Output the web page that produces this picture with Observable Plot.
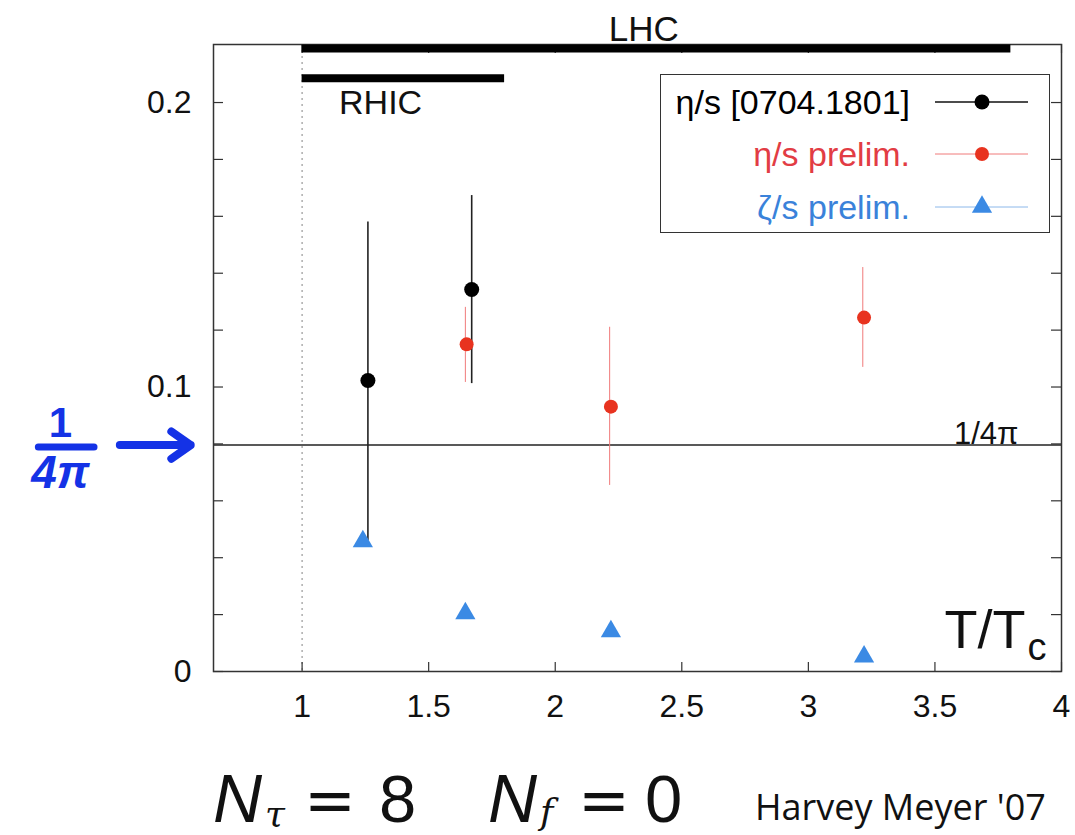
<!DOCTYPE html>
<html><head><meta charset="utf-8">
<script src="https://cdn.jsdelivr.net/npm/d3@7"></script>
<script src="https://cdn.jsdelivr.net/npm/@observablehq/plot@0.6"></script>
<style>
body{margin:0;background:#fff;}
#wrap{position:relative;width:1075px;height:835px;font-family:"Liberation Sans",Arial,sans-serif;}
#legend{position:absolute;left:660px;top:74px;width:388px;height:157px;border:1.5px solid #333;background:#fff;}
#caption{position:absolute;left:0;top:750px;}
</style></head>
<body><div id="wrap"></div>
<script>
// ---- data ----
const etaRefT   = [1.26, 1.67];
const etaRefV   = [0.1023, 0.1343];
const etaRefLo  = [0.046, 0.1012];
const etaRefHi  = [0.158, 0.1673];

const etaPreT   = [1.65, 2.22, 3.22];
const etaPreV   = [0.115, 0.0931, 0.1244];
const etaPreLo  = [0.1016, 0.0654, 0.1069];
const etaPreHi  = [0.128, 0.121, 0.142];

const zetaT     = [1.24, 1.645, 2.22, 3.22];
const zetaV     = [0.0457, 0.0204, 0.0141, 0.0052];

const colliders = ["LHC", "RHIC"];
const collStart = [1.0, 1.0];
const collEnd   = [3.8, 1.8];
const collY     = [0.219, 0.2085];

const kss = 1 / (4 * Math.PI);
const xTicks = [1, 1.5, 2, 2.5, 3, 3.5, 4];
const yLabelTicks = [0, 0.1, 0.2];
const yMinorTicks = [0, 0.02, 0.04, 0.06, 0.08, 0.1, 0.12, 0.14, 0.16, 0.18, 0.2];

const legendLabels = ["η/s [0704.1801]", "η/s prelim.", "ζ/s prelim."];
const legendColors = ["#000000", "#e23c44", "#3a82da"];
const redDot = "#e8331f", redBar = "#f07a7a", blueTri = "#3b8ae4", handBlue = "#1432e6";

// ---- tables ----
const etaRef = etaRefT.map((t, i) => ({t, v: etaRefV[i], lo: etaRefLo[i], hi: etaRefHi[i]}));
const etaPre = etaPreT.map((t, i) => ({t, v: etaPreV[i], lo: etaPreLo[i], hi: etaPreHi[i]}));
const zeta = zetaT.map((t, i) => ({t, v: zetaV[i]}));
const coll = colliders.map((n, i) => ({n, x1: collStart[i], x2: collEnd[i], y: collY[i]}));

const W = 1075, H = 750, mL = 213, mR = 14, mT = 44, mB = 79;
const pw = W - mL - mR, ph = H - mT - mB;
const font = "Liberation Sans, Arial, sans-serif";

const chart = Plot.plot({
  width: W, height: H,
  marginLeft: mL, marginRight: mR, marginTop: mT, marginBottom: mB,
  style: {fontFamily: font, background: "white", overflow: "visible"},
  x: {domain: [0.65, 4]},
  y: {domain: [0, 0.2204]},
  marks: [
    Plot.ruleX([1], {stroke: "#999", strokeDasharray: "2,4", strokeWidth: 1.2}),
    Plot.ruleY([kss], {stroke: "#222", strokeWidth: 1.5}),
    // inward ticks
    Plot.tickY(yMinorTicks, {y: d => d, insetRight: pw - 10, stroke: "#333", strokeWidth: 1.2}),
    Plot.tickY(yMinorTicks, {y: d => d, insetLeft: pw - 10, stroke: "#333", strokeWidth: 1.2}),
    Plot.tickX(xTicks, {x: d => d, insetTop: ph - 9, stroke: "#333", strokeWidth: 1.2}),
    Plot.tickX(xTicks, {x: d => d, insetBottom: ph - 9, stroke: "#333", strokeWidth: 1.2}),
    Plot.frame({stroke: "#333", strokeWidth: 1.5}),
    Plot.axisX({ticks: xTicks, tickSize: 0, tickPadding: 23, fontSize: 32, tickFormat: d => String(d), label: null, color: "#111"}),
    Plot.axisY({ticks: yLabelTicks, tickSize: 0, tickPadding: 22, fontSize: 32, tickFormat: d => String(d), label: null, color: "#111"}),
    // collider bars
    Plot.ruleY(coll, {y: "y", x1: "x1", x2: "x2", strokeWidth: 8, stroke: "#000"}),
    Plot.text(coll.filter(d => d.n === "LHC"), {x: d => (d.x1 + d.x2) / 2 - 0.05, y: "y", text: "n", fontSize: 35, lineAnchor: "bottom", dy: -7, fill: "#111"}),
    Plot.text(coll.filter(d => d.n === "RHIC"), {x: d => d.x1 + 0.31, y: "y", text: "n", fontSize: 34, lineAnchor: "top", dy: 12, fill: "#111"}),
    // 1/4pi label
    Plot.text([kss], {x: 3.83, y: d => d, text: () => "1/4π", textAnchor: "end", lineAnchor: "bottom", dy: -1, fontSize: 31, fill: "#111"}),
    // error bars
    Plot.ruleX(etaPre, {x: d => d.t - 0.005, y1: "lo", y2: "hi", stroke: redBar, strokeWidth: 1}),
    Plot.ruleX(etaRef, {x: "t", y1: "lo", y2: "hi", stroke: "#222", strokeWidth: 1.6}),
    Plot.dot(etaPre, {x: "t", y: "v", r: 7, fill: redDot, stroke: "none"}),
    Plot.dot(etaRef, {x: "t", y: "v", r: 7.5, fill: "#000", stroke: "none"}),
    Plot.dot(zeta, {x: "t", y: "v", r: 7.5, symbol: "triangle", fill: blueTri, stroke: "none"}),
    // axis label T/T_c
    Plot.text(["T/T"], {frameAnchor: "bottom-right", text: d => d, textAnchor: "end", lineAnchor: "bottom", dx: -36, dy: -24, fontSize: 54, fill: "#111"}),
    Plot.text(["c"], {frameAnchor: "bottom-right", text: d => d, textAnchor: "start", lineAnchor: "bottom", dx: -34, dy: -12, fontSize: 38, fill: "#111"}),
    // handwritten annotation
    Plot.text([kss], {x: 0.045, y: d => d, text: () => "1", lineAnchor: "bottom", dy: -8, fontSize: 42, fontWeight: "bold", fill: handBlue}),
    Plot.ruleY([kss], {x1: -0.04, x2: 0.18, y: d => d, dy: 2, stroke: handBlue, strokeWidth: 7, strokeLinecap: "round"}),
    Plot.text([kss], {x: 0.045, y: d => d, text: () => "4π", lineAnchor: "top", dy: 10, fontSize: 46, fontWeight: "bold", fontStyle: "italic", fill: handBlue}),
    Plot.arrow([kss], {x1: 0.28, x2: 0.56, y1: d => d, y2: d => d, stroke: handBlue, strokeWidth: 8, headLength: 22, headAngle: 70})
  ]
});

const wrap = document.getElementById("wrap");
wrap.appendChild(chart);

// legend (inside the frame)
const lg = document.createElement("div");
lg.id = "legend";
const rowsY = [27, 79, 132];
let svg = `<svg width="388" height="157" style="position:absolute;left:0;top:0;overflow:visible">`;
legendLabels.forEach((lab, i) => {
  const y = rowsY[i];
  svg += `<text x="249" y="${y}" dy="0.36em" text-anchor="end" font-size="34" font-family="${font}" fill="${legendColors[i]}">${lab}</text>`;
  const lc = i === 0 ? "#111" : (i === 1 ? redBar : "#8cb8ea");
  svg += `<line x1="274" x2="367" y1="${y}" y2="${y}" stroke="${lc}" stroke-width="${i===0?1.6:1}"/>`;
  if (i < 2) svg += `<circle cx="321" cy="${y}" r="${i===0?7.5:7}" fill="${i===0?'#000':redDot}"/>`;
  else svg += `<path transform="translate(321,${y})" d="${d3.symbol(d3.symbolTriangle, Math.PI*7.5*7.5)()}" fill="${blueTri}"/>`;
});
svg += `</svg>`;
lg.innerHTML = svg;
wrap.appendChild(lg);

// caption (below the chart)
const capDiv = document.createElement("div");
capDiv.id = "caption";
capDiv.innerHTML = `<svg width="1075" height="85" style="overflow:visible">
  <g fill="#111">
    <text x="213" y="72" font-family="Liberation Sans" font-style="italic" font-size="68">N</text>
    <text x="265" y="76" font-family="DejaVu Serif" font-style="italic" font-size="36">τ</text>
    <text x="304" y="72" font-family="DejaVu Sans" font-size="62">=</text>
    <text x="379" y="72" font-family="Liberation Sans" font-size="67">8</text>
    <text x="488" y="72" font-family="Liberation Sans" font-style="italic" font-size="68">N</text>
    <text x="540" y="74" font-family="DejaVu Serif" font-style="italic" font-size="36">f</text>
    <text x="578" y="72" font-family="DejaVu Sans" font-size="62">=</text>
    <text x="645" y="72" font-family="Liberation Sans" font-size="67">0</text>
    <text x="755" y="70" font-family="Open Sans" font-size="36">Harvey Meyer '07</text>
  </g></svg>`;
wrap.appendChild(capDiv);
</script>
</body></html>
